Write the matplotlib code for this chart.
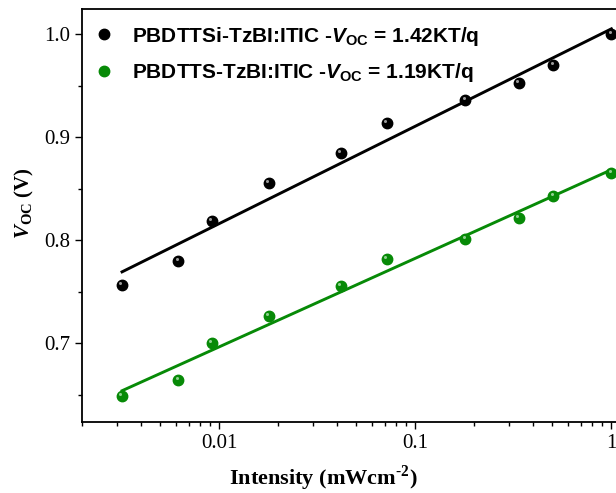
import numpy as np
import matplotlib
matplotlib.use('Agg')
import matplotlib.pyplot as plt
from matplotlib.ticker import FixedLocator, NullFormatter
from matplotlib.transforms import offset_copy
from matplotlib.lines import Line2D

plt.rcParams['font.family'] = ['Liberation Serif', 'DejaVu Serif']
plt.rcParams['mathtext.fontset'] = 'custom'
plt.rcParams['mathtext.rm'] = 'Liberation Serif:bold'
plt.rcParams['mathtext.it'] = 'Liberation Sans:italic:bold'
plt.rcParams['mathtext.bfit'] = 'Liberation Serif:italic:bold'

# light intensity (mW cm^-2)
intensity = [0.00319, 0.00617, 0.00916, 0.0179, 0.0418, 0.0715, 0.18, 0.3385, 0.506, 1.0]
voc_si = [0.757, 0.780, 0.819, 0.8555, 0.885, 0.914, 0.936, 0.953, 0.970, 1.000]
voc_s = [0.649, 0.6645, 0.700, 0.7266, 0.756, 0.782, 0.801, 0.822, 0.843, 0.865]

labels = [r'PBDTTSi-TzBI:ITIC -$\mathit{V}_{\mathdefault{OC}}$ = 1.42KT/q',
          r'PBDTTS-TzBI:ITIC -$\mathit{V}_{\mathdefault{OC}}$ = 1.19KT/q']
colors = ['black', '#078a07']
highlights = ['#9a9a9a', '#8fd08f']

fig = plt.figure(figsize=(6.16, 4.93), dpi=100)
# axes run past the right edge, like the cropped original
ax = fig.add_axes([82.3 / 616, 71.3 / 493, 544.6 / 616, 412.4 / 493])

x = np.array(intensity)
handles = []
for y, c, h in zip([voc_si, voc_s], colors, highlights):
    y = np.array(y)
    k, b = np.polyfit(np.log10(x), y, 1)
    xf = np.array([x.min(), x.max()])
    ax.plot(xf, k * np.log10(xf) + b, color=c, lw=2.1, zorder=2)
    ax.plot(x, y, 'o', ms=7.5, color=c, mec=c, zorder=3, clip_on=False)
    hl = offset_copy(ax.transData, fig=fig, x=-1.2, y=1.4, units='points')
    ax.plot(x, y, 'o', ms=2.2, color=h, mec='none', transform=hl, zorder=4, clip_on=False)
    handles.append(Line2D([], [], ls='none', marker='o', ms=7.5, color=c))

ax.set_xscale('log')
ax.set_xlim(0.002, 1.2)
ax.set_ylim(0.624, 1.0243)

ax.xaxis.set_major_locator(FixedLocator([0.01, 0.1, 1]))
ax.set_xticklabels(['0.01', '0.1', '1'])
minors = [m * 10.0 ** e for e in (-3, -2, -1, 0) for m in range(2, 10)]
ax.xaxis.set_minor_locator(FixedLocator(minors))
ax.xaxis.set_minor_formatter(NullFormatter())
ax.set_yticks([0.7, 0.8, 0.9, 1.0])
ax.set_yticklabels(['0.7', '0.8', '0.9', '1.0'])
ax.set_yticks([0.65, 0.75, 0.85, 0.95], minor=True)

ax.tick_params(which='both', direction='out', top=False, right=False, width=1.0,
               labelsize=15, pad=3.8)
ax.tick_params(which='major', length=5)
ax.tick_params(which='minor', length=2.6)
for s in ax.spines.values():
    s.set_linewidth(1.3)

ax.set_xlabel(r'Intensity (mWcm$^{\text{-2}}$)', fontsize=16, fontweight='bold')
ax.xaxis.set_label_coords(0.443, -0.1535, transform=ax.transAxes)
ax.xaxis.label.set_va('baseline')
ax.set_ylabel(r'$\mathbfit{V}_{\mathdefault{OC}}$ (V)', fontsize=15, fontweight='bold')
ax.yaxis.set_label_coords(-0.085, 0.53, transform=ax.transAxes)

leg = ax.legend(handles, labels, loc='upper left', frameon=False, numpoints=1,
                prop={'family': 'Liberation Sans', 'weight': 'bold', 'size': 15},
                handlelength=1.0, handletextpad=0.83, labelspacing=0.65,
                borderaxespad=0, bbox_to_anchor=(0.0055, 0.983))

fig.savefig('out.png', dpi=100)
